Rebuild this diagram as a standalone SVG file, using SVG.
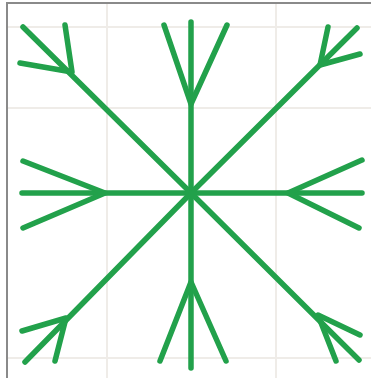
<svg xmlns="http://www.w3.org/2000/svg" width="371" height="378" viewBox="0 0 371 378">
<style>
.grid{stroke:#efece8;stroke-width:2;fill:none}
.border{stroke:#8a8a8a;stroke-width:2;fill:none}
.arm{stroke:#22a14b;stroke-width:5.5;stroke-linecap:round;stroke-linejoin:round;fill:none}
</style>
<rect width="371" height="378" fill="#ffffff"/>
<g id="grid">
<line class="grid" x1="7" y1="27" x2="371" y2="27"/>
<line class="grid" x1="7" y1="108" x2="371" y2="108"/>
<line class="grid" x1="7" y1="358" x2="371" y2="358"/>
<line class="grid" x1="107" y1="3" x2="107" y2="378"/>
<line class="grid" x1="276" y1="3" x2="276" y2="378"/>
</g>
<polyline class="border" points="7,378 7,3 371,3"/>
<g id="connectors">
<path class="arm" d="M191,22 L191,368"/>
<path class="arm" d="M22,193 L362,193"/>
<path class="arm" d="M23,27 L191,193"/>
<path class="arm" d="M357,28 L191,193"/>
<path class="arm" d="M25,362 L191,193"/>
<path class="arm" d="M359,360 L191,193"/>
<path class="arm" d="M164,25 L191,104 L227,25"/>
<path class="arm" d="M160,361 L191,282 L226,361"/>
<path class="arm" d="M23,161 L105,193 L23,228"/>
<path class="arm" d="M362,160 L288,193 L359,228"/>
<path class="arm" d="M65,25 L72,72 L20,63"/>
<path class="arm" d="M328,27 L320,65 L360,54"/>
<path class="arm" d="M22,331 L66,318 L55,361"/>
<path class="arm" d="M360,335 L318,315 L336,361"/>
</g>
</svg>
